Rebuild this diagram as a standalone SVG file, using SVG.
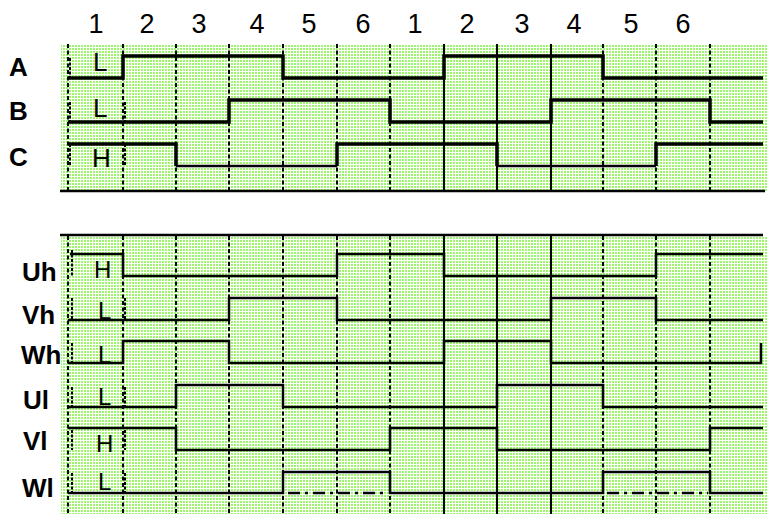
<svg xmlns="http://www.w3.org/2000/svg" width="769" height="514" viewBox="0 0 769 514">
<style>
.num{font-family:"Liberation Sans",Arial,sans-serif;font-size:27px;fill:#000;text-anchor:middle}
.row{font-family:"Liberation Sans",Arial,sans-serif;font-size:26px;font-weight:bold;fill:#000}
.lvl{font-family:"Liberation Sans",Arial,sans-serif;font-size:26px;fill:#000}
.lvl2{font-family:"Liberation Sans",Arial,sans-serif;font-size:24px;fill:#000}
.dash{stroke:#000;stroke-width:2;stroke-dasharray:4 2.5;fill:none}
.solid{stroke:#000;stroke-width:2;fill:none}
.sig{stroke:#000;stroke-width:3.5;fill:none;stroke-linejoin:miter}
.sig2{stroke:#000;stroke-width:2.5;fill:none}
.rag{stroke:#000;stroke-width:2;stroke-dasharray:3 1.5;fill:none}
.dd{stroke:#000;stroke-width:2.5;stroke-dasharray:12 5 3 5;fill:none}
</style>
<defs>
<pattern id="dots" width="3" height="3" patternUnits="userSpaceOnUse">
<rect width="2" height="2" fill="#9cf56a"/>
</pattern>
</defs>
<rect width="769" height="514" fill="#fff"/>
<g id="top-panel">
<rect x="61" y="44" width="706" height="147" fill="url(#dots)"/>
<line x1="60" y1="191" x2="765" y2="191" stroke="#000" stroke-width="2.5"/>
</g>
<g id="bottom-panel">
<rect x="61" y="236" width="706" height="278" fill="url(#dots)"/>
<line x1="60" y1="235" x2="763" y2="235" stroke="#000" stroke-width="2.5"/>
</g>
<g id="grid">
<path class="dash" d="M68,44V191M123,44V191M176,44V191M229,44V191M283,44V191M337,44V191M390,44V191M603,44V191M656,44V191M710,44V191"/>
<path class="solid" d="M444,44V191M497,44V191M551,44V191"/>
<path class="dash" d="M68,236V514M123,236V514M176,236V514M229,236V514M283,236V514M337,236V514M390,236V514M603,236V514M656,236V514M710,236V514"/>
<path class="solid" d="M444,236V514M497,236V514M551,236V514"/>
</g>
<g id="numbers">
<text class="num" x="96" y="33">1</text>
<text class="num" x="147" y="33">2</text>
<text class="num" x="199" y="33">3</text>
<text class="num" x="257" y="33">4</text>
<text class="num" x="309" y="33">5</text>
<text class="num" x="363" y="33">6</text>
<text class="num" x="415" y="33">1</text>
<text class="num" x="467" y="33">2</text>
<text class="num" x="522" y="33">3</text>
<text class="num" x="574" y="33">4</text>
<text class="num" x="631" y="33">5</text>
<text class="num" x="683" y="33">6</text>
</g>
<g id="connectors">
<g id="sig-A">
<path class="sig" d="M68,78H123V56H283V78H444V56H603V78H763"/>
<path class="rag" d="M70,58V78"/>
</g>
<g id="sig-B">
<path class="sig" d="M68,122H229V100H390V122H551V100H710V122H763"/>
<path class="rag" d="M70,102V122M125,102V122"/>
</g>
<g id="sig-C">
<path class="sig" d="M68,144H176V166"/>
<path class="sig2" d="M176,166H337"/>
<path class="sig" d="M337,166V144H497V166"/>
<path class="sig2" d="M497,166H656"/>
<path class="sig" d="M656,166V144H763"/>
<path class="rag" d="M70,144V166M125,144V166"/>
</g>
<g id="sig-Uh">
<path class="sig2" d="M70,254H123V276H337V254H444V276H656V254H763"/>
<path class="rag" d="M72,250V276"/>
</g>
<g id="sig-Vh">
<path class="sig2" d="M68,320H229V298H337V320H551V298H656V320H763"/>
<path class="rag" d="M72,298V320M125,298V320"/>
</g>
<g id="sig-Wh">
<path class="sig2" d="M68,363H123V341H229V363H444V341H551V363H761V343"/>
<path class="rag" d="M72,343V363"/>
</g>
<g id="sig-Ul">
<path class="sig2" d="M68,407H176V385H283V407H497V385H603V407H763"/>
<path class="rag" d="M72,387V407M125,387V407"/>
</g>
<g id="sig-Vl">
<path class="sig2" d="M68,428H176V450H390V428H497V450H710V428H763"/>
<path class="rag" d="M72,430V450M125,430V450"/>
</g>
<g id="sig-Wl">
<path class="sig2" d="M68,493H283V472H390V493H603V472H710V493H763"/>
<path class="dd" d="M288,493H388M607,493H708"/>
<path class="rag" d="M72,473V493M125,473V493"/>
</g>
</g>
<g id="labels">
<text class="row" x="9" y="76">A</text>
<text class="row" x="9" y="120">B</text>
<text class="row" x="9" y="166">C</text>
<text class="row" x="22" y="281">Uh</text>
<text class="row" x="22" y="324">Vh</text>
<text class="row" x="21" y="364">Wh</text>
<text class="row" x="23" y="409">Ul</text>
<text class="row" x="23" y="450">Vl</text>
<text class="row" x="22" y="497">Wl</text>
<text class="lvl" x="93" y="71">L</text>
<text class="lvl" x="93" y="117">L</text>
<text class="lvl" x="92" y="167">H</text>
<text class="lvl2" x="94" y="278">H</text>
<text class="lvl2" x="98" y="319">L</text>
<text class="lvl2" x="98" y="363">L</text>
<text class="lvl2" x="98" y="405">L</text>
<text class="lvl2" x="96" y="452">H</text>
<text class="lvl2" x="98" y="490">L</text>
</g>
</svg>
